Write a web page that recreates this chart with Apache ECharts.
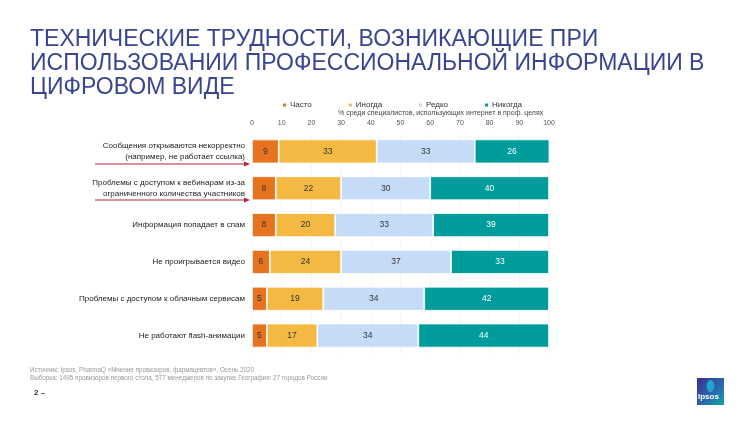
<!DOCTYPE html>
<html><head><meta charset="utf-8">
<script src="https://cdn.jsdelivr.net/npm/echarts@6/dist/echarts.min.js"></script>
<style>html,body{margin:0;padding:0;background:#fff}#c{width:750px;height:421px}</style>
</head><body><div id="c"></div>
<script>
const categories = [
  "Сообщения открываются некорректно\n(например, не работает ссылка)",
  "Проблемы с доступом к вебинарам из-за\nограниченного количества участников",
  "Информация попадает в спам",
  "Не проигрывается видео",
  "Проблемы с доступом к облачным сервисам",
  "Не работают flash-анимации"
];
const seriesNames = ["Часто", "Иногда", "Редко", "Никогда"];
const often = [9, 8, 8, 6, 5, 5];
const sometimes = [33, 22, 20, 24, 19, 17];
const rarely = [33, 30, 33, 37, 34, 34];
const never = [26, 40, 39, 33, 42, 44];
const xTicks = [0, 10, 20, 30, 40, 50, 60, 70, 80, 90, 100];

const colors = ["#E8731F", "#F4B942", "#C6DBF7", "#009B9B"];
const labelColors = ["#333", "#333", "#333", "#fff"];
const values = [often, sometimes, rarely, never];

const chart = echarts.init(document.getElementById('c'));
const font = "'Liberation Sans', Arial, sans-serif";
chart.setOption({
  animation: false,
  textStyle: {fontFamily: font},
  title: {
    text: "ТЕХНИЧЕСКИЕ ТРУДНОСТИ, ВОЗНИКАЮЩИЕ ПРИ\nИСПОЛЬЗОВАНИИ ПРОФЕССИОНАЛЬНОЙ ИНФОРМАЦИИ В\nЦИФРОВОМ ВИДЕ",
    left: 25, top: 23,
    textStyle: {fontFamily: font, fontSize: 23, fontWeight: 'normal', color: '#3A4592', lineHeight: 24}
  },
  legend: {
    data: seriesNames, left: 276, top: 96,
    itemWidth: 5, itemHeight: 5, itemGap: 35, icon: 'rect',
    textStyle: {fontSize: 8, color: '#333', padding: [0, 0, 0, -2]}
  },
  graphic: [
    {type: 'text', left: 338, top: 110, style: {text: "% среди специалистов, использующих интернет в проф. целях", font: "7px " + font, fill: '#444'}},
    {type: 'line', shape: {x1: 95, y1: 164, x2: 246, y2: 164}, style: {stroke: '#B0283A', lineWidth: 1}},
    {type: 'polygon', shape: {points: [[250, 164], [244, 161.5], [244, 166.5]]}, style: {fill: '#B0283A'}},
    {type: 'line', shape: {x1: 95, y1: 200, x2: 246, y2: 200}, style: {stroke: '#B0283A', lineWidth: 1}},
    {type: 'polygon', shape: {points: [[250, 200], [244, 197.5], [244, 202.5]]}, style: {fill: '#B0283A'}},
    {type: 'text', left: 30, top: 367, style: {text: "Источник: Ipsos, PharmaQ «Мнение провизоров, фармацевтов», Осень 2020", font: "6.3px " + font, fill: '#999'}},
    {type: 'text', left: 30, top: 375, style: {text: "Выборка: 1495 провизоров первого стола, 577 менеджеров по закупке География: 27 городов России", font: "6.3px " + font, fill: '#999'}},
    {type: 'text', left: 34, top: 389, style: {text: "2 –", font: "bold 8px " + font, fill: '#333'}},
    {type: 'rect', shape: {x: 697, y: 378, width: 27, height: 27}, style: {fill: new echarts.graphic.LinearGradient(0, 0, 1, 1, [{offset: 0, color: '#3A2E8E'}, {offset: 0.6, color: '#2A6BB0'}, {offset: 1, color: '#12A7A0'}])}},
    {type: 'ellipse', shape: {cx: 710.5, cy: 386, rx: 4, ry: 6}, style: {fill: '#1FA3C8'}},
    {type: 'text', left: 698, top: 393, style: {text: "Ipsos", font: "bold 8px " + font, fill: '#fff'}}
  ],
  grid: {left: 252, right: 201, top: 133, bottom: 67},
  xAxis: {
    type: 'value', position: 'top', min: 0, max: 100, interval: 10,
    axisLine: {show: false}, axisTick: {show: false},
    axisLabel: {fontSize: 7, color: '#555', margin: 6, formatter: v => xTicks.includes(v) ? String(v) : ''},
    splitLine: {show: true, lineStyle: {color: '#f5f5f5', width: 1}}
  },
  yAxis: {
    type: 'category', data: categories, inverse: true,
    axisLine: {show: false}, axisTick: {show: false},
    axisLabel: {fontSize: 8, color: '#222', margin: 7, lineHeight: 11, align: 'right'}
  },
  series: seriesNames.map((n, i) => ({
    name: n, type: 'bar', stack: 'total', data: values[i],
    barWidth: 24,
    itemStyle: {color: colors[i], borderColor: '#fff', borderWidth: 0.8},
    label: {show: true, position: 'inside', fontSize: 8.5, color: labelColors[i]}
  }))
});
</script></body></html>
